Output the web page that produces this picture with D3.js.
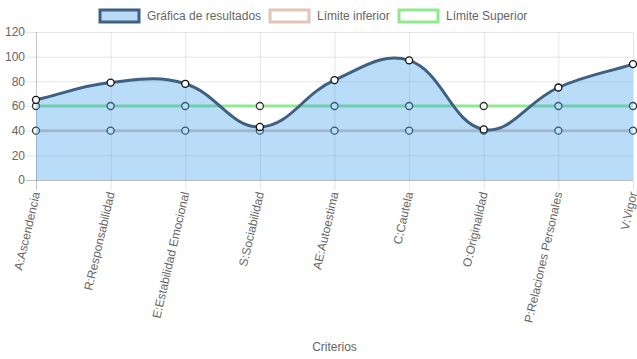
<!DOCTYPE html>
<html>
<head>
<meta charset="utf-8">
<script src="https://cdn.jsdelivr.net/npm/d3@7/dist/d3.min.js"></script>
<style>
html,body{margin:0;padding:0;background:#fff;}
svg{display:block;font-family:"Liberation Sans",Arial,Helvetica,sans-serif;}
</style>
</head>
<body>
<svg id="chart" width="637" height="359"></svg>
<script>
const categories = ["A:Ascendencia","R:Responsabilidad","E:Estabilidad Emocional","S:Sociabilidad","AE:Autoestima","C:Cautela","O:Originalidad","P:Relaciones Personales","V:Vigor"];
const resultados = [65, 79, 78, 43, 81, 97, 41, 75, 94];
const limiteInferior = [40, 40, 40, 40, 40, 40, 40, 40, 40];
const limiteSuperior = [60, 60, 60, 60, 60, 60, 60, 60, 60];
const yTicks = [0, 20, 40, 60, 80, 100, 120];
const seriesNames = ["Gráfica de resultados", "Límite inferior", "Límite Superior"];
const xTitle = "Criterios";

(function () {
const svg = d3.select("#chart");
const pLeft = 36, pRight = 633, pTop = 32, pBottom = 180;
const x = d3.scalePoint().domain(categories).range([pLeft, pRight]);
const y = d3.scaleLinear().domain([0, 120]).range([pBottom, pTop]);
const txt = "#666";

// grid
const g = svg.append("g");
yTicks.forEach(t => {
  g.append("line").attr("x1", 26).attr("x2", pRight).attr("y1", y(t)+0.5).attr("y2", y(t)+0.5)
    .attr("stroke", t === 0 ? "rgba(0,0,0,0.25)" : "rgba(0,0,0,0.1)").attr("stroke-width", 1);
  g.append("text").attr("x", 25).attr("y", y(t)).attr("dy", "0.35em").attr("text-anchor", "end")
    .attr("fill", txt).attr("font-size", 12).text(t);
});
categories.forEach((c, i) => {
  g.append("line").attr("x1", x(c)+0.5).attr("x2", x(c)+0.5).attr("y1", pTop).attr("y2", pBottom + 10)
    .attr("stroke", i === 0 ? "rgba(0,0,0,0.22)" : "rgba(0,0,0,0.1)").attr("stroke-width", 1);
  g.append("text").attr("transform", `translate(${x(c)},${pBottom + 12}) rotate(-77)`)
    .attr("text-anchor", "end").attr("dy", "0.35em").attr("fill", txt).attr("font-size", 12).text(c);
});
svg.append("text").attr("x", (pLeft + pRight) / 2).attr("y", 351).attr("text-anchor", "middle")
  .attr("fill", txt).attr("font-size", 12).text(xTitle);

// Chart.js-like spline
function splinePath(vals, tension) {
  const pts = vals.map((v, i) => ({ x: x(categories[i]), y: y(v) }));
  const cps = pts.map((p, i) => {
    const prev = pts[i - 1] || p, next = pts[i + 1] || p;
    const d01 = Math.hypot(p.x - prev.x, p.y - prev.y);
    const d12 = Math.hypot(next.x - p.x, next.y - p.y);
    let s01 = d01 / (d01 + d12), s12 = d12 / (d01 + d12);
    if (isNaN(s01)) s01 = 0; if (isNaN(s12)) s12 = 0;
    const fa = tension * s01, fb = tension * s12;
    return {
      px: p.x - fa * (next.x - prev.x), py: p.y - fa * (next.y - prev.y),
      nx: p.x + fb * (next.x - prev.x), ny: p.y + fb * (next.y - prev.y)
    };
  });
  const path = d3.path();
  path.moveTo(pts[0].x, pts[0].y);
  for (let i = 1; i < pts.length; i++) {
    path.bezierCurveTo(cps[i - 1].nx, cps[i - 1].ny, cps[i].px, cps[i].py, pts[i].x, pts[i].y);
  }
  return path.toString();
}

function drawLimit(vals, color) {
  const line = d3.line().x((d, i) => x(categories[i])).y(d => y(d));
  svg.append("path").attr("d", line(vals)).attr("fill", "none").attr("stroke", color).attr("stroke-width", 3);
  svg.append("g").selectAll("circle").data(vals).join("circle")
    .attr("cx", (d, i) => x(categories[i])).attr("cy", d => y(d)).attr("r", 3.5)
    .attr("fill", "#fff").attr("stroke", "#333").attr("stroke-width", 1.3);
}
drawLimit(limiteSuperior, "rgb(144,232,144)");
drawLimit(limiteInferior, "rgb(226,196,184)");

// results
const sp = splinePath(resultados, 0.4);
const ap = sp + `L${x(categories[categories.length - 1])},${y(0)}L${x(categories[0])},${y(0)}Z`;
svg.append("path").attr("d", ap).attr("fill", "rgba(54,158,235,0.35)");
svg.append("path").attr("d", sp).attr("fill", "none")
  .attr("stroke", "rgb(64,96,130)").attr("stroke-width", 3);
svg.append("g").selectAll("circle").data(resultados).join("circle")
  .attr("cx", (d, i) => x(categories[i])).attr("cy", d => y(d)).attr("r", 3.5)
  .attr("fill", "#fff").attr("stroke", "#111").attr("stroke-width", 1.3);

// legend
const legend = [
  { name: seriesNames[0], fill: "rgb(184,218,246)", stroke: "rgb(64,96,130)", bx: 100, tx: 147 },
  { name: seriesNames[1], fill: "#fff", stroke: "rgb(226,196,184)", bx: 270, tx: 317 },
  { name: seriesNames[2], fill: "#fff", stroke: "rgb(144,232,144)", bx: 399, tx: 446 }
];
const lg = svg.append("g");
legend.forEach(l => {
  lg.append("rect").attr("x", l.bx).attr("y", 10).attr("width", 39).attr("height", 12)
    .attr("fill", l.fill).attr("stroke", l.stroke).attr("stroke-width", 3);
  lg.append("text").attr("x", l.tx).attr("y", 16).attr("dy", "0.35em").attr("fill", txt)
    .attr("font-size", 12).text(l.name);
});
})();
</script>
</body>
</html>
